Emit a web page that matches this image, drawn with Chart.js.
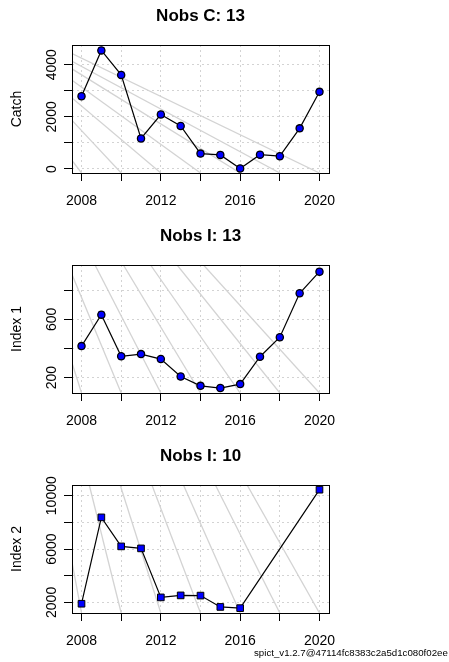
<!DOCTYPE html>
<html>
<head>
<meta charset="utf-8">
<script src="https://cdn.jsdelivr.net/npm/chart.js@4.4.1/dist/chart.umd.min.js"></script>
<style>
  html, body { margin: 0; padding: 0; background: #fff; overflow: hidden; }
  body { width: 449px; height: 662px; position: relative; }
  .panel { position: absolute; left: 0; width: 449px; height: 220px; }
  .footer { position: absolute; left: 254px; top: 648px; font: 9.7px "Liberation Sans", Arial, sans-serif;
            line-height: 1; white-space: nowrap; color: #000; }
</style>
</head>
<body>
<div class="panel" style="top:0"><canvas id="catchChart" width="449" height="220"></canvas></div>
<div class="panel" style="top:220px"><canvas id="index1Chart" width="449" height="220"></canvas></div>
<div class="panel" style="top:440px"><canvas id="index2Chart" width="449" height="220"></canvas></div>
<div class="footer">spict_v1.2.7@47114fc8383c2a5d1c080f02ee</div>
<script>
// Shared x axis
const xRange = [2007.52, 2020.48];
const xTicks = [2008, 2010, 2012, 2014, 2016, 2018, 2020];
const xTickLabels = [2008, 2012, 2016, 2020];

// Catch panel
const catchYears = [2008, 2009, 2010, 2011, 2012, 2013, 2014, 2015, 2016, 2017, 2018, 2019, 2020];
const catchValues = [2790, 4550, 3610, 1170, 2090, 1650, 590, 540, 20, 550, 490, 1560, 2960];
const catchRange = [-154, 4757];
const catchYTicks = [0, 1000, 2000, 3000, 4000];
const catchYLabels = [0, 2000, 4000];
// grey guide lines: value at left edge, year where they reach the bottom
const catchGuideY0 = [4428, 4132, 3840, 3402, 2726, 1866, 330];
const catchGuideX1 = [2020, 2018, 2016, 2014, 2012, 2010, 2008];

// Index 1 panel
const index1Years = [2008, 2009, 2010, 2011, 2012, 2013, 2014, 2015, 2016, 2017, 2018, 2019, 2020];
const index1Values = [416, 632, 346, 361, 327, 207, 143, 128, 155, 343, 477, 779, 927];
const index1Range = [94, 973];
const index1YTicks = [200, 400, 600, 800];
const index1YLabels = [200, 600];
// grey guide lines: year at the top edge, year at the bottom edge
const index1GuideX0 = [2005.96, 2007.32, 2008.68, 2010.11, 2011.48, 2012.82, 2014.15];
const index1GuideX1 = [2008, 2010, 2012, 2014, 2016, 2018, 2020];

// Index 2 panel
const index2Years = [2008, 2009, 2010, 2011, 2012, 2013, 2014, 2015, 2016, 2020];
const index2Values = [1900, 8375, 6200, 6050, 2375, 2525, 2510, 1660, 1570, 10450];
const index2Range = [1205, 10803];
const index2YTicks = [2000, 4000, 6000, 8000, 10000];
const index2YLabels = [2000, 6000, 10000];
const index2GuideX0 = [2006.79, 2008.39, 2009.95, 2011.55, 2013.14, 2014.75, 2016.35];
const index2GuideX1 = [2008, 2010, 2012, 2014, 2016, 2018, 2020];

const FONT = '"Liberation Sans", Arial, Helvetica, sans-serif';
const BLUE = '#0000ff';
const GUIDE = '#d3d3d3';

// Draws the R-style box, main title, y label and rotated y tick labels
const rDecor = {
    id: 'rDecor',
    afterDraw(chart, args, opts) {
        const { ctx, chartArea: a } = chart;
        const yScale = chart.scales.y;
        ctx.save();
        ctx.strokeStyle = '#000';
        ctx.lineWidth = 1;
        ctx.strokeRect(a.left + 0.5, a.top + 0.5, a.right - a.left, a.bottom - a.top);

        ctx.fillStyle = '#000';
        ctx.textAlign = 'center';
        ctx.textBaseline = 'alphabetic';
        ctx.font = 'bold 17px ' + FONT;
        ctx.fillText(opts.title, (a.left + a.right) / 2, 21);

        ctx.font = '14px ' + FONT;
        ctx.save();
        ctx.translate(20.5, (a.top + a.bottom) / 2);
        ctx.rotate(-Math.PI / 2);
        ctx.fillText(opts.ylab, 0, 0);
        ctx.restore();

        opts.yLabels.forEach(v => {
            ctx.save();
            ctx.translate(55.5, yScale.getPixelForValue(v));
            ctx.rotate(-Math.PI / 2);
            ctx.fillText(String(v), 0, 0);
            ctx.restore();
        });
        ctx.restore();
    }
};

function guideDatasets(starts, ends) {
    return starts.map((s, i) => ({
        type: 'line',
        data: [s, ends[i]],
        borderColor: GUIDE,
        borderWidth: 1.3,
        pointRadius: 0,
        fill: false,
        order: 3,
        clip: 0
    }));
}

function makePanel(id, cfg) {
    const points = cfg.years.map((x, i) => ({ x: x, y: cfg.values[i] }));
    const datasets = [{
        data: points,
        borderColor: '#000',
        borderWidth: 1.2,
        pointStyle: cfg.squares ? 'rect' : 'circle',
        pointRadius: cfg.squares ? 4.7 : 3.6,
        pointBackgroundColor: BLUE,
        pointBorderColor: '#000',
        pointBorderWidth: cfg.squares ? 1 : 1.3,
        order: 1,
        clip: false
    }];
    if (!cfg.squares) {
        datasets.push({
            data: points,
            showLine: false,
            pointStyle: 'rect',
            pointRadius: 4.5,
            pointBackgroundColor: BLUE,
            pointBorderColor: BLUE,
            pointBorderWidth: 0,
            order: 2,
            clip: false
        });
    }
    datasets.push(...cfg.guides);

    new Chart(document.getElementById(id), {
        type: 'line',
        data: { datasets: datasets },
        options: {
            responsive: false,
            animation: false,
            events: [],
            layout: { padding: { top: 45, right: 120, left: 0, bottom: 0 } },
            plugins: {
                legend: { display: false },
                tooltip: { enabled: false },
                rDecor: { title: cfg.title, ylab: cfg.ylab, yLabels: cfg.yLabels }
            },
            scales: {
                x: {
                    type: 'linear',
                    min: xRange[0],
                    max: xRange[1],
                    afterBuildTicks: s => { s.ticks = xTicks.map(v => ({ value: v })); },
                    afterFit: s => { s.height = 47; },
                    border: { display: false, dash: [2, 3] },
                    grid: { color: GUIDE, lineWidth: 1, drawTicks: true, tickLength: 8, tickColor: '#000', tickWidth: 1 },
                    ticks: {
                        autoSkip: false,
                        maxRotation: 0,
                        padding: 12,
                        color: '#000',
                        font: { family: FONT, size: 14 },
                        callback: v => xTickLabels.includes(v) ? String(v) : ''
                    }
                },
                y: {
                    type: 'linear',
                    min: cfg.range[0],
                    max: cfg.range[1],
                    afterBuildTicks: s => { s.ticks = cfg.yTicks.map(v => ({ value: v })); },
                    afterFit: s => { s.width = 72; },
                    border: { display: false, dash: [2, 3] },
                    grid: { color: GUIDE, lineWidth: 1, drawTicks: true, tickLength: 8, tickColor: '#000', tickWidth: 1 },
                    ticks: { display: false }
                }
            }
        },
        plugins: [rDecor]
    });
}

makePanel('catchChart', {
    title: 'Nobs C: 13', ylab: 'Catch',
    years: catchYears, values: catchValues, range: catchRange,
    yTicks: catchYTicks, yLabels: catchYLabels, squares: false,
    guides: guideDatasets(
        catchGuideY0.map(y => ({ x: xRange[0], y: y })),
        catchGuideX1.map(x => ({ x: x, y: catchRange[0] })))
});

makePanel('index1Chart', {
    title: 'Nobs I: 13', ylab: 'Index 1',
    years: index1Years, values: index1Values, range: index1Range,
    yTicks: index1YTicks, yLabels: index1YLabels, squares: false,
    guides: guideDatasets(
        index1GuideX0.map(x => ({ x: x, y: index1Range[1] })),
        index1GuideX1.map(x => ({ x: x, y: index1Range[0] })))
});

makePanel('index2Chart', {
    title: 'Nobs I: 10', ylab: 'Index 2',
    years: index2Years, values: index2Values, range: index2Range,
    yTicks: index2YTicks, yLabels: index2YLabels, squares: true,
    guides: guideDatasets(
        index2GuideX0.map(x => ({ x: x, y: index2Range[1] })),
        index2GuideX1.map(x => ({ x: x, y: index2Range[0] })))
});
</script>
</body>
</html>
